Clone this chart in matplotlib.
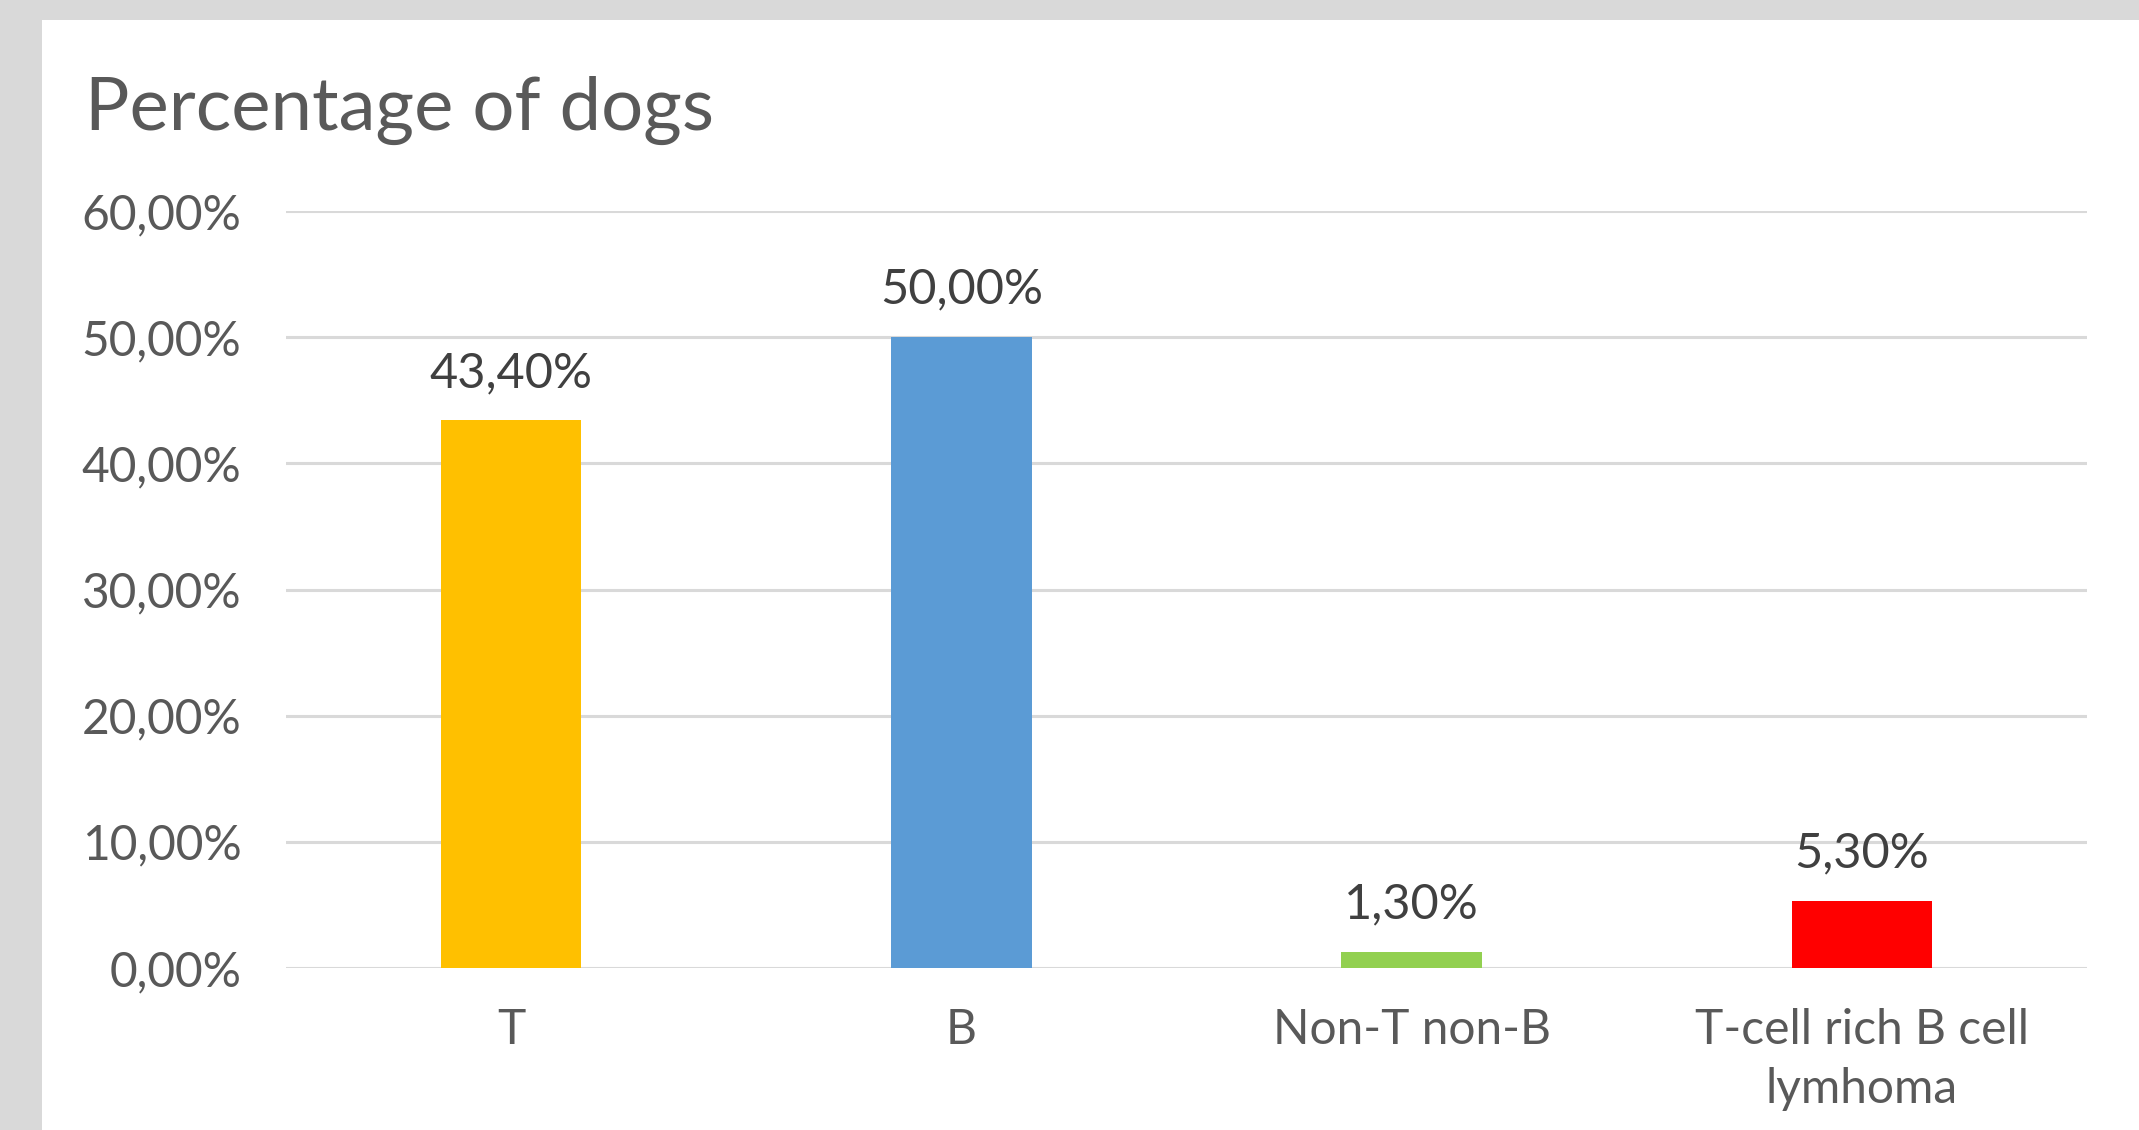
import matplotlib
matplotlib.use("Agg")
import matplotlib.pyplot as plt
from matplotlib.patches import Rectangle

categories = ["T", "B", "Non-T non-B", "T-cell rich B cell\nlymhoma"]
values = [0.434, 0.50, 0.013, 0.053]
colors = ["#FFC000", "#5B9BD5", "#92D050", "#FF0000"]
yticks = [0.0, 0.1, 0.2, 0.3, 0.4, 0.5, 0.6]

plt.rcParams["font.family"] = ["Lato", "DejaVu Sans"]

def pct(v):
    return ("%.2f%%" % (v * 100)).replace(".", ",")

fig = plt.figure(figsize=(21.39, 11.3), dpi=100)
fig.patch.set_facecolor("#D9D9D9")
# white chart area inside the grey frame
fig.patches.append(Rectangle((42 / 2139, 0), 1 - 42 / 2139, 1 - 20 / 1130,
                             transform=fig.transFigure, facecolor="white",
                             edgecolor="none", zorder=-5))

ax = fig.add_axes([286 / 2139, 162 / 1130, 1801 / 2139, 757 / 1130])
ax.set_zorder(2)
ax.set_facecolor("none")

x = range(len(categories))
bars = ax.bar(x, values, width=0.312, color=colors, zorder=3)

for xi, v in zip(x, values):
    ax.annotate(pct(v), (xi, v), xytext=(0, 24), textcoords="offset points",
                ha="center", va="baseline", fontsize=35, color="#404040")

ax.set_xlim(-0.5, 3.5)
ax.set_ylim(0, 0.6)
ax.set_yticks(yticks)
ax.set_yticklabels([pct(t) for t in yticks])
ax.set_xticks(list(x))
ax.set_xticklabels(categories, linespacing=1.4)

ax.grid(axis="y", color="#D9D9D9", linewidth=2.2, zorder=0)
ax.grid(axis="x", visible=False)
for s in ax.spines.values():
    s.set_visible(False)

ax.tick_params(axis="y", length=0, pad=32, labelsize=34.5, labelcolor="#595959")
ax.tick_params(axis="x", length=0, pad=29, labelsize=34.5, labelcolor="#595959")

fig.text(85 / 2139, 1 - 130 / 1130, "Percentage of dogs", fontsize=53.5,
         color="#595959", ha="left", va="baseline", zorder=3)

fig.savefig("out.png", dpi=100, facecolor=fig.get_facecolor())
